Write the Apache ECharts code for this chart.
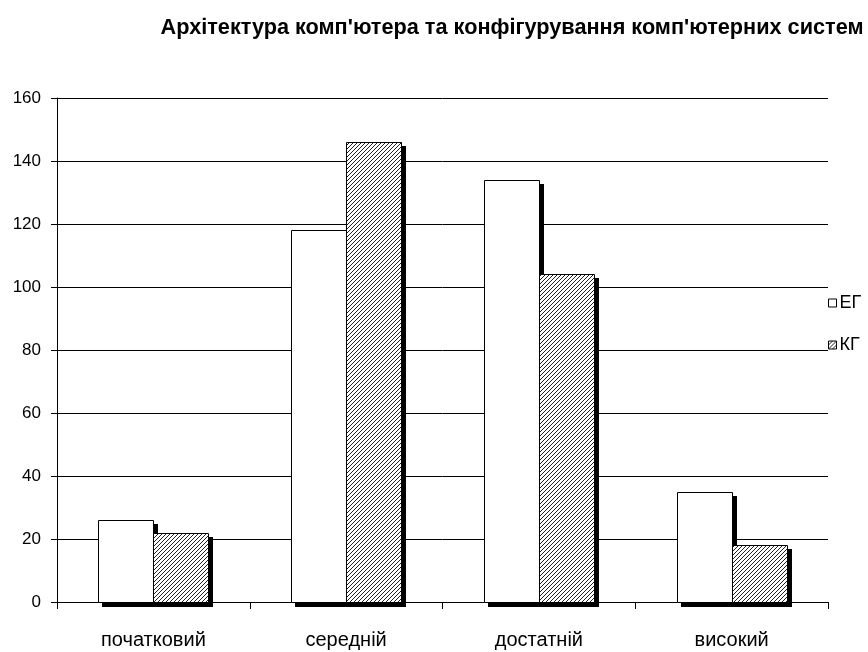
<!DOCTYPE html>
<html>
<head>
<meta charset="utf-8">
<script src="https://cdn.jsdelivr.net/npm/echarts@6/dist/echarts.min.js"></script>
<style>
  html, body { margin: 0; padding: 0; background: #fff; }
  #chart { width: 868px; height: 652px; }
</style>
</head>
<body>
<div id="chart"></div>
<script>
// Рівні навчальних досягнень
const categories = ['початковий', 'середній', 'достатній', 'високий'];
// Експериментальна група
const egValues = [26, 118, 134, 35];
// Контрольна група
const kgValues = [22, 146, 104, 18];
const seriesNames = ['ЕГ', 'КГ'];
const titleText = "Архітектура комп'ютера та конфігурування комп'ютерних систем";

// Diagonal hatch fill for the second series
function makeHatch() {
  const n = 4;
  const c = document.createElement('canvas');
  c.width = n; c.height = n;
  const ctx = c.getContext('2d');
  ctx.fillStyle = '#fff';
  ctx.fillRect(0, 0, n, n);
  ctx.strokeStyle = '#222';
  ctx.lineWidth = 1;
  ctx.beginPath();
  ctx.moveTo(0, n); ctx.lineTo(n, 0);
  ctx.moveTo(-1, 1); ctx.lineTo(1, -1);
  ctx.moveTo(n - 1, n + 1); ctx.lineTo(n + 1, n - 1);
  ctx.stroke();
  return c;
}

const hatch = { image: makeHatch(), repeat: 'repeat' };
const fills = ['#fff', hatch];
const BAR_RATIO = 0.285;   // bar width as a share of the category band
const SHADOW = 4;          // drop shadow offset, px

// Bar with a solid black drop shadow (shadow is drawn only behind the bar body)
function barRenderer(idx) {
  return function (params, api) {
    const cat = api.value(0);
    const val = api.value(1);
    const base = api.coord([cat, 0]);
    const top = api.coord([cat, val]);
    const band = api.size([1, 0])[0];
    const w = Math.round(band * BAR_RATIO);
    const x = Math.round(base[0] - w + idx * w) + 0.5;
    const y = Math.round(top[1]) + 0.5;
    const h = Math.round(base[1]) - Math.round(top[1]);
    return {
      type: 'group',
      children: [
        { type: 'rect', shape: { x: x + SHADOW - 0.5, y: y + SHADOW - 0.5, width: w + 1, height: h + 1 }, style: { fill: '#000' } },
        { type: 'rect', shape: { x: x, y: y, width: w, height: h }, style: { fill: fills[idx], stroke: '#000', lineWidth: 1 } }
      ]
    };
  };
}

const chart = echarts.init(document.getElementById('chart'));
const fontFamily = 'Liberation Sans, Arial, sans-serif';

chart.setOption({
  animation: false,
  backgroundColor: '#fff',
  title: {
    text: titleText,
    left: 507, top: 12, textAlign: 'center',
    textStyle: { fontFamily: fontFamily, fontWeight: 'bold', fontSize: 21.7, color: '#000' }
  },
  legend: {
    orient: 'vertical',
    left: 828, top: 294, padding: 0,
    itemWidth: 8, itemHeight: 8, itemGap: 24,
    textStyle: { fontFamily: fontFamily, fontSize: 18, color: '#000', padding: [0, 0, 0, -2] },
    data: [
      { name: seriesNames[0], icon: 'rect', itemStyle: { color: '#fff', borderColor: '#000', borderWidth: 1 } },
      { name: seriesNames[1], icon: 'rect', itemStyle: { color: hatch, borderColor: '#000', borderWidth: 1 } }
    ]
  },
  grid: { left: 57, right: 40, top: 98, bottom: 50 },
  xAxis: {
    type: 'category',
    data: categories,
    axisLine: { lineStyle: { color: '#000', width: 1 } },
    axisTick: { show: true, length: 7, lineStyle: { color: '#000' } },
    axisLabel: { fontFamily: fontFamily, fontSize: 20, color: '#000', margin: 28 }
  },
  yAxis: {
    type: 'value',
    min: 0, max: 160, interval: 20,
    axisLine: { show: true, lineStyle: { color: '#000', width: 1 } },
    axisTick: { show: true, length: 6, lineStyle: { color: '#000' } },
    axisLabel: { fontFamily: fontFamily, fontSize: 17, color: '#000', margin: 16 },
    splitLine: { lineStyle: { color: '#000', width: 1 } }
  },
  series: [
    {
      name: seriesNames[0], type: 'custom',
      data: egValues.map((v, i) => [i, v]),
      encode: { x: 0, y: 1 },
      itemStyle: { color: '#fff', borderColor: '#000' },
      renderItem: barRenderer(0)
    },
    {
      name: seriesNames[1], type: 'custom',
      data: kgValues.map((v, i) => [i, v]),
      encode: { x: 0, y: 1 },
      itemStyle: { color: hatch, borderColor: '#000' },
      renderItem: barRenderer(1)
    }
  ]
});
</script>
</body>
</html>
